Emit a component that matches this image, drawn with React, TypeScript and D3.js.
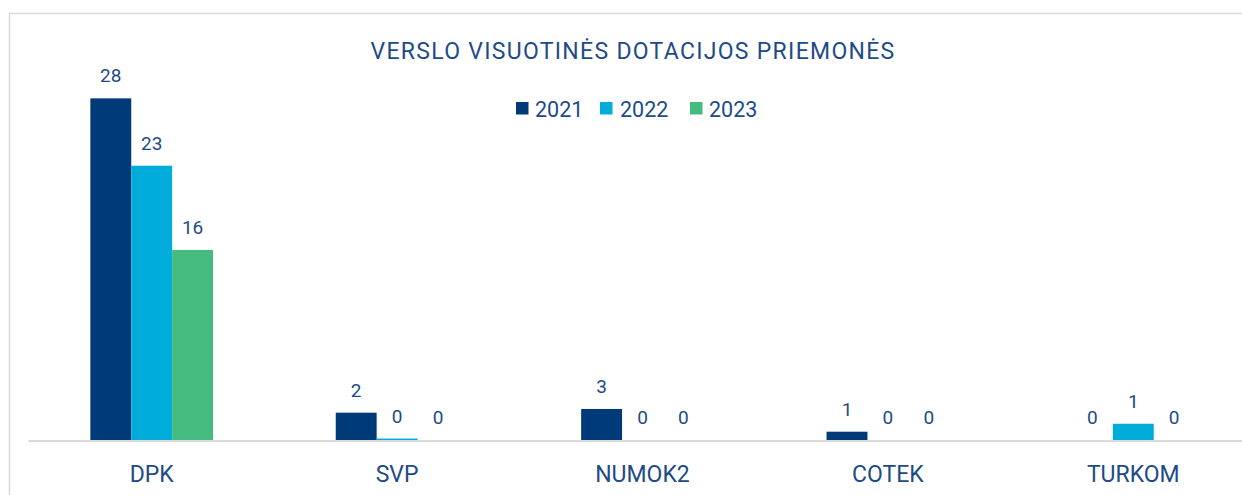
import React from "react";
import * as d3 from "d3";

const categories = ["DPK", "SVP", "NUMOK2", "COTEK", "TURKOM"];
const seriesNames = ["2021", "2022", "2023"];
const values2021 = [28.4, 2.27, 2.58, 0.69, 0];
const values2022 = [22.8, 0.12, 0, 0, 1.35];
const values2023 = [15.8, 0, 0, 0, 0];
const seriesValues = [values2021, values2022, values2023];
const colors = ["#003A78", "#00ACD9", "#46BB80"];
const title = "VERSLO VISUOTINĖS DOTACIJOS PRIEMONĖS";

const W = 1242;
const H = 495;
const textColor = "#1E4B86";
const font = "Roboto, 'Noto Sans', sans-serif";

export default function App() {
  const x0 = d3
    .scaleBand<string>()
    .domain(categories)
    .range([29, 1256])
    .paddingInner(0.5)
    .paddingOuter(0.25);
  const x1 = d3
    .scaleBand<string>()
    .domain(seriesNames)
    .range([0, x0.bandwidth()])
    .padding(0);
  const y = d3.scaleLinear().domain([0, 30]).range([440, 79.1]);
  const fmt = d3.format(".0f");

  const legendItems = [
    { name: "2021", mx: 516, tx: 535 },
    { name: "2022", mx: 600, tx: 620 },
    { name: "2023", mx: 690, tx: 709 },
  ];

  return (
    <svg
      width={W}
      height={H}
      style={{ position: "absolute", left: 0, top: 0, background: "#fff" }}
      fontFamily={font}
    >
      <rect x={0} y={0} width={W} height={H} fill="#fff" />
      <rect x={9.5} y={13.5} width={1300} height={600} fill="#fff" stroke="#D9D9D9" strokeWidth={1.5} />
      <text
        x={633}
        y={59.3}
        textAnchor="middle"
        fontSize={23}
        letterSpacing={1.3}
        fill={textColor}
      >
        {title}
      </text>
      {legendItems.map((l, i) => (
        <g key={l.name}>
          <rect x={l.mx} y={102} width={12.5} height={12.5} fill={colors[i]} />
          <text x={l.tx} y={116.7} fontSize={21.5} fill={textColor}>
            {l.name}
          </text>
        </g>
      ))}
      <line x1={28.5} x2={W + 20} y1={441} y2={441} stroke="#D9D9D9" strokeWidth={2} />
      {categories.map((c, ci) => (
        <g key={c} transform={`translate(${x0(c)},0)`}>
          {seriesNames.map((s, si) => {
            const v = seriesValues[si][ci];
            const bx = x1(s)!;
            const bw = x1.bandwidth();
            return (
              <g key={s}>
                {v > 0 && (
                  <rect x={bx} y={y(v)} width={bw} height={y(0) - y(v)} fill={colors[si]} />
                )}
                <text
                  x={bx + bw / 2}
                  y={y(v) - 16}
                  textAnchor="middle"
                  fontSize={19}
                  fill={textColor}
                >
                  {fmt(v)}
                </text>
              </g>
            );
          })}
          <text
            x={x0.bandwidth() / 2}
            y={481.5}
            textAnchor="middle"
            fontSize={23}
            fill={textColor}
          >
            {c}
          </text>
        </g>
      ))}
    </svg>
  );
}
